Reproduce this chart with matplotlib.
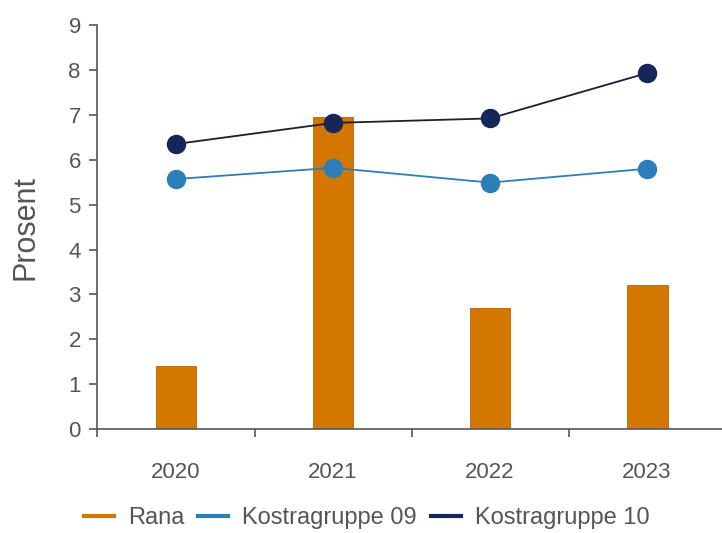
import numpy as np
import matplotlib.pyplot as plt
from matplotlib.lines import Line2D

plt.rcParams['font.family'] = ['Liberation Sans', 'DejaVu Sans']

years = ['2020', '2021', '2022', '2023']
rana = [1.4, 6.95, 2.7, 3.2]
kostra09 = [5.57, 5.82, 5.49, 5.8]
kostra10 = [6.35, 6.82, 6.92, 7.93]

c_rana = '#d47700'
c_09 = '#2a7fba'
c_10 = '#16255a'
grey = '#555555'

fig = plt.figure(figsize=(7.22, 5.33), dpi=100)
ax = fig.add_axes([0.135, 0.195, 0.87, 0.758])

x = np.arange(len(years))
ax.bar(x, rana, width=0.26, color=c_rana, edgecolor='#b86400', linewidth=0.6, zorder=2)
ax.plot(x, kostra09, color=c_09, lw=1.3, marker='o', ms=13, mec=c_09, zorder=3)
ax.plot(x, kostra10, color='#1a1f33', lw=1.3, marker='o', ms=13, mfc=c_10, mec=c_10, zorder=4)

ax.set_xlim(-0.5, 3.5)
ax.set_ylim(0, 9)
ax.set_yticks(range(0, 10))
ax.set_xticks(x)
ax.set_xticklabels(years)
ax.set_xticks(np.arange(-0.5, 3.0, 1.0), minor=True)

for s in ['top', 'right']:
    ax.spines[s].set_visible(False)
for s in ['left', 'bottom']:
    ax.spines[s].set_color(grey)
    ax.spines[s].set_linewidth(1.2)

ax.tick_params(axis='y', colors=grey, labelsize=16, length=6, width=1.2, pad=6)
ax.tick_params(axis='x', which='major', length=0, labelsize=16, labelcolor=grey, pad=24)
ax.tick_params(axis='x', which='minor', length=6, width=1.2, color=grey)
ax.set_ylabel('Prosent', fontsize=22, color=grey, labelpad=20)

handles = [Line2D([], [], color=c, lw=3) for c in (c_rana, c_09, c_10)]
fig.legend(handles, ['Rana', 'Kostragruppe 09', 'Kostragruppe 10'],
           loc='center', bbox_to_anchor=(0.508, 0.028), ncol=3, frameon=False,
           fontsize=17, labelcolor=grey, handlelength=1.26, handletextpad=0.6,
           columnspacing=0.6)

fig.savefig('out.png', dpi=100)
